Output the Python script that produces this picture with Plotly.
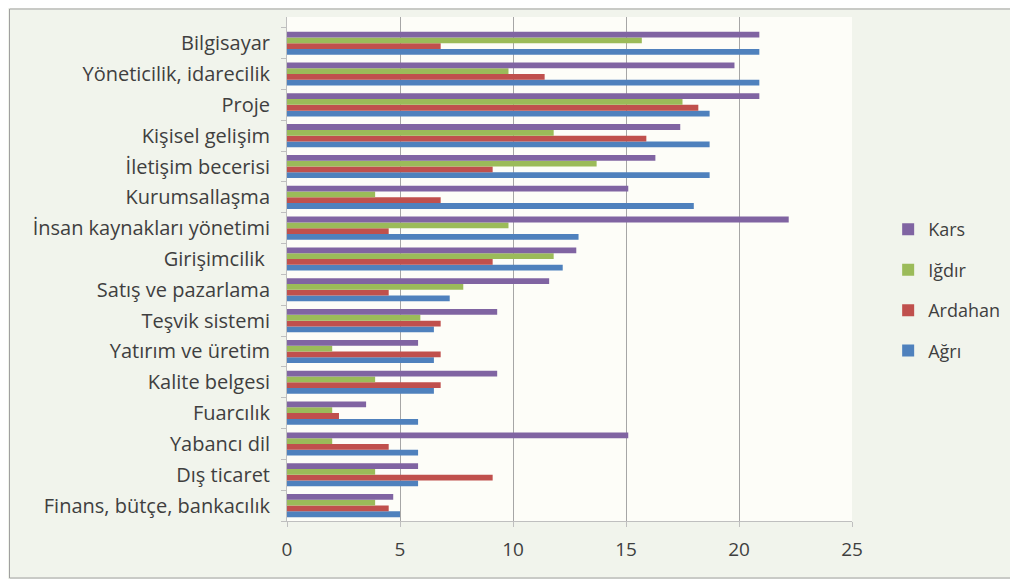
import plotly.graph_objects as go

categories = ["Finans, bütçe, bankacılık", "Dış ticaret", "Yabancı dil", "Fuarcılık",
              "Kalite belgesi", "Yatırım ve üretim", "Teşvik sistemi", "Satış ve pazarlama",
              "Girişimcilik ", "İnsan kaynakları yönetimi", "Kurumsallaşma", "İletişim becerisi",
              "Kişisel gelişim", "Proje", "Yöneticilik, idarecilik", "Bilgisayar"]

agri =    [5.0, 5.8, 5.8, 5.8, 6.5, 6.5, 6.5, 7.2, 12.2, 12.9, 18.0, 18.7, 18.7, 18.7, 20.9, 20.9]
ardahan = [4.5, 9.1, 4.5, 2.3, 6.8, 6.8, 6.8, 4.5, 9.1, 4.5, 6.8, 9.1, 15.9, 18.2, 11.4, 6.8]
igdir =   [3.9, 3.9, 2.0, 2.0, 3.9, 2.0, 5.9, 7.8, 11.8, 9.8, 3.9, 13.7, 11.8, 17.5, 9.8, 15.7]
kars =    [4.7, 5.8, 15.1, 3.5, 9.3, 5.8, 9.3, 11.6, 12.8, 22.2, 15.1, 16.3, 17.4, 20.9, 19.8, 20.9]

series = [("Ağrı", agri, "#4F81BD"), ("Ardahan", ardahan, "#C0504D"),
          ("Iğdır", igdir, "#9BBB59"), ("Kars", kars, "#8064A2")]

fig = go.Figure()
for i, (name, vals, color) in enumerate(series):
    fig.add_trace(go.Bar(y=categories, x=vals, name=name, orientation="h",
                         marker=dict(color=color, line=dict(width=0)),
                         legendgroup=name, legendrank=len(series) - i))

PH = 504  # plot height in px
# page body has an 8px default margin; figure is offset accordingly
fig.update_layout(
    width=1010, height=571,
    barmode="group", bargap=0.25, bargroupgap=0,
    margin=dict(l=279, r=166, t=9, b=58, autoexpand=False),
    paper_bgcolor="#F1F4EC",
    plot_bgcolor="#FDFDF8",
    font=dict(family="Open Sans, Lato, sans-serif", size=20, color="#3F3F3F"),
    legend=dict(traceorder="grouped", x=1.064, y=0.458, xanchor="left",
                yanchor="middle", tracegroupgap=14, font=dict(size=18),
                bgcolor="rgba(0,0,0,0)", itemwidth=30),
    xaxis=dict(range=[0, 25], dtick=5, showgrid=True, gridcolor="#A6A6A6", gridwidth=1,
               zeroline=False, showline=True, linecolor="#BFBFBF", ticks="outside",
               ticklen=5, tickcolor="#BFBFBF", tickfont=dict(size=19), mirror=False,
               ticklabelstandoff=6),
    yaxis=dict(showline=True, linecolor="#BFBFBF", ticks="outside", tickson="boundaries",
               ticklen=5, tickcolor="#BFBFBF", tickfont=dict(size=20), showgrid=False,
               automargin=False, ticklabelstandoff=12, range=[-0.5, 15.85]),
    shapes=[dict(type="rect", xref="paper", yref="paper", x0=1.5 / 565 - 279 / 565,
                 x1=(1010 - 279 - 1) / 565, y0=-(570 - 513) / PH, y1=1 + 8 / PH,
                 line=dict(color="#A0A0A0", width=1), layer="below")],
)

fig.write_html("out.html")
